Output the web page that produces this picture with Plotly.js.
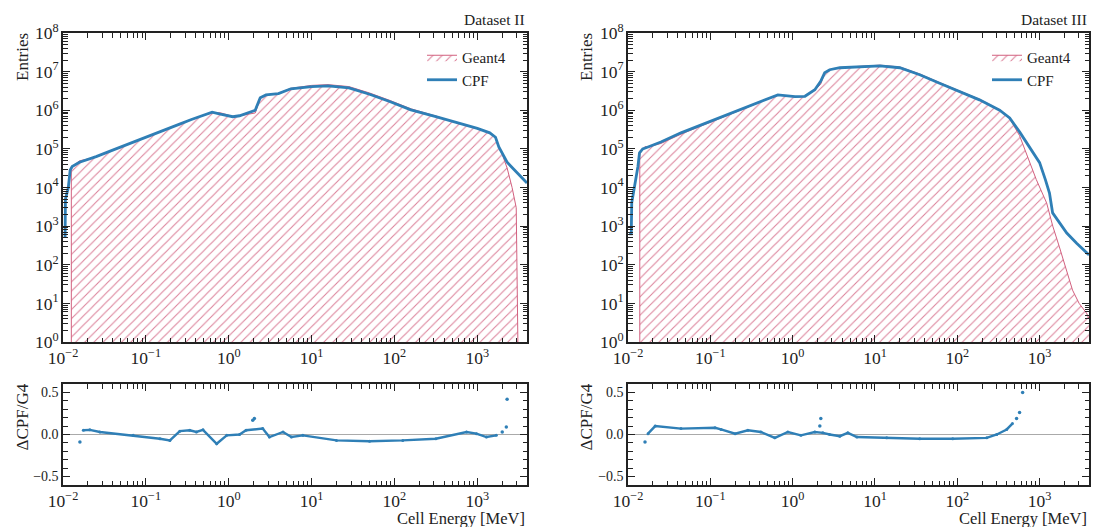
<!DOCTYPE html>
<html><head><meta charset="utf-8">
<script src="https://cdn.plot.ly/plotly-3.0.1.min.js"></script>
<style>html,body{margin:0;padding:0;background:#fff}#plot{width:1093px;height:527px}</style>
</head><body><div id="plot"></div>
<script>
// ---------------- Dataset II ----------------
const E_cpf2 = [0.0102,0.0106,0.0107,0.0112,0.0116,0.0122,0.0129,0.0158,0.0251,0.0398,0.0631,0.1,0.158,0.251,0.355,0.501,0.631,0.794,1.12,1.35,1.78,2.09,2.40,2.82,3.98,5.62,10,15.8,28.2,50.1,89.1,158,316,603,1000,1413,1660,1820,1995,2291,2630,3020,3548,3981];
const N_cpf2 = [5.6e2,5.6e2,5.0e3,7.1e3,1.0e4,2.8e4,3.5e4,4.5e4,6.3e4,9.3e4,1.35e5,2.0e5,2.95e5,4.3e5,5.75e5,7.6e5,8.9e5,7.9e5,6.8e5,7.2e5,8.7e5,1.0e6,2.1e6,2.5e6,2.7e6,3.6e6,4.1e6,4.3e6,3.8e6,2.6e6,1.66e6,1.02e6,6.8e5,4.6e5,3.4e5,2.6e5,2.0e5,1.12e5,7.9e4,4.5e4,3.3e4,2.4e4,1.6e4,1.3e4];
const E_g4_2 = [0.0126,0.0126,0.0158,0.0251,0.0398,0.0631,0.1,0.158,0.251,0.355,0.501,0.631,0.794,1.12,1.35,1.78,2.09,2.40,2.82,3.98,5.62,10,15.8,28.2,50.1,89.1,158,316,603,1000,1413,1660,1820,1995,2291,2630,2951,3090];
const N_g4_2 = [1,3.3e4,4.9e4,6.1e4,9.2e4,1.37e5,2.02e5,3.0e5,4.4e5,5.8e5,7.3e5,8.6e5,8.6e5,6.9e5,7.2e5,7.8e5,8.5e5,2.0e6,2.5e6,2.75e6,3.7e6,4.4e6,4.6e6,4.1e6,2.8e6,1.78e6,1.09e6,7.1e5,4.5e5,3.4e5,2.65e5,2.0e5,1.1e5,7.3e4,3.2e4,1.0e4,3.0e3,1];
const E_r2 = [0.0176,0.0211,0.0279,0.0703,0.148,0.195,0.257,0.339,0.407,0.489,0.716,0.946,1.35,1.62,2.57,3.10,4.52,5.71,7.85,20,50.1,126,316,741,977,1288,1698];
const R_r2 = [0.05,0.055,0.03,-0.01,-0.05,-0.07,0.04,0.05,0.03,0.055,-0.11,-0.01,0.0,0.05,0.07,-0.03,0.03,-0.03,-0.01,-0.07,-0.08,-0.07,-0.05,0.03,0.01,-0.03,-0.01];
const E_r2dots = [0.0160,1.95,2.04,2000,2240,2290];
const R_r2dots = [-0.09,0.17,0.19,0.03,0.09,0.42];

// ---------------- Dataset III ----------------
const E_cpf3 = [0.01035,0.01096,0.0111,0.01175,0.0126,0.0132,0.0138,0.0151,0.0175,0.0251,0.044,0.0794,0.158,0.286,0.447,0.661,1.07,1.41,1.86,2.19,2.45,2.82,3.74,6.55,11.5,20,35,61,107,186,327,433,571,757,1000,1175,1318,1439,1750,2138,2818,3715,3981];
const N_cpf3 = [6.3e2,6.3e2,4.0e3,7.9e3,2.0e4,3.5e4,7.9e4,1.0e5,1.12e5,1.5e5,2.6e5,4.3e5,7.6e5,1.26e6,1.86e6,2.5e6,2.24e6,2.3e6,3.4e6,5.6e6,9.3e6,1.12e7,1.26e7,1.35e7,1.41e7,1.26e7,8.3e6,5.0e6,3.0e6,1.86e6,1.0e6,6.3e5,2.75e5,1.12e5,4.4e4,1.6e4,7.2e3,2.2e3,1.2e3,6.6e2,3.6e2,2.0e2,1.8e2];
const E_g4_3 = [0.0139,0.0139,0.0161,0.0175,0.0251,0.044,0.0794,0.158,0.286,0.447,0.661,1.07,1.41,1.86,2.19,2.45,2.82,3.74,6.55,11.5,20,35,61,107,186,327,433,571,708,912,1216,1445,1738,2089,2512,3020,3715,3981];
const N_g4_3 = [1,7.5e4,1.15e5,1.11e5,1.38e5,2.4e5,4.0e5,7.1e5,1.2e6,1.8e6,2.55e6,2.2e6,2.3e6,3.3e6,4.7e6,9.3e6,1.12e7,1.28e7,1.4e7,1.47e7,1.32e7,8.7e6,5.2e6,3.1e6,1.93e6,1.04e6,6.0e5,2.2e5,6.3e4,1.6e4,4.0e3,1.0e3,2.9e2,80,22,10,5.6,4];
const E_r3 = [0.0175,0.0214,0.044,0.114,0.135,0.200,0.286,0.411,0.608,0.875,1.26,1.86,2.33,2.82,3.74,4.68,6.03,13.9,35,88,228,302,398,468];
const R_r3 = [0.01,0.1,0.07,0.08,0.06,0.01,0.05,0.03,-0.04,0.03,-0.01,0.03,0.02,0.0,-0.02,0.02,-0.03,-0.04,-0.05,-0.05,-0.04,0.0,0.06,0.13];
const E_r3dots = [0.0161,2.14,2.20,525,571,622];
const R_r3dots = [-0.09,0.1,0.19,0.19,0.26,0.5];

// tick labels: plotly's default log labels for 10^0 and 10^1 are "1" and "10";
// they are re-labelled in the same 10^n style as the other decades
const logDefaultLabels = ['1','10'];
const logTickText = ['10<sup>0</sup>','10<sup>1</sup>'];
const labelAlias = {};
logDefaultLabels.forEach((k,i)=>{labelAlias[k]=logTickText[i];});

// minor tick positions (axis decoration only)
function minorLog(lo,hi){ const v=[]; for(let e=lo;e<=hi;e++){ for(let m=2;m<=9;m++) v.push(m*Math.pow(10,e)); } return v; }
const xMinor = minorLog(-2,3);
const yMinor = minorLog(0,7);
const rMinor = []; for(let k=-6;k<=6;k++) rMinor.push(k/10);

const CPF = '#2f7fb6';
const G4 = '#d2607f';
const FONT = 'Liberation Serif, Times New Roman, serif';
const AX = '#222';

function g4trace(x,y,xa,ya,leg){
  return {x:x,y:y,xaxis:xa,yaxis:ya,type:'scatter',mode:'lines',name:'Geant4',legend:leg,
    line:{color:G4,width:1},fill:'tozeroy',
    fillpattern:{shape:'/',fgcolor:G4,bgcolor:'rgba(255,255,255,0)',size:6.5,solidity:0.16,fgopacity:0.8}};
}
function cpftrace(x,y,xa,ya,leg){
  return {x:x,y:y,xaxis:xa,yaxis:ya,type:'scatter',mode:'lines',name:'CPF',legend:leg,line:{color:CPF,width:2.8}};
}
function rline(x,y,xa,ya){
  return {x:x,y:y,xaxis:xa,yaxis:ya,type:'scatter',mode:'lines+markers',showlegend:false,
    line:{color:CPF,width:2.4},marker:{color:CPF,size:3}};
}
function rdots(x,y,xa,ya){
  return {x:x,y:y,xaxis:xa,yaxis:ya,type:'scatter',mode:'markers',showlegend:false,marker:{color:CPF,size:3.5}};
}
// empty holder so the minor-tick overlay subplots exist
function holder(xa,ya){ return {x:[],y:[],xaxis:xa,yaxis:ya,type:'scatter',mode:'markers',showlegend:false,hoverinfo:'skip'}; }

const data = [
  g4trace(E_g4_2,N_g4_2,'x','y','legend'),
  cpftrace(E_cpf2,N_cpf2,'x','y','legend'),
  rline(E_r2,R_r2,'x2','y2'),
  rdots(E_r2dots,R_r2dots,'x2','y2'),
  g4trace(E_g4_3,N_g4_3,'x3','y3','legend2'),
  cpftrace(E_cpf3,N_cpf3,'x3','y3','legend2'),
  rline(E_r3,R_r3,'x4','y4'),
  rdots(E_r3dots,R_r3dots,'x4','y4')
];
for(let k=5;k<=12;k++) data.push(holder('x'+k,'y'+k));

const W=1093,H=527;
const LX=[63/W,527/W], RX=[628/W,1089/W];
const TY=[(H-342)/H,(H-33)/H], BY=[(H-485)/H,(H-384)/H];
const TICKFONT = {family:FONT,size:14,color:AX};

function base(){
  return {ticks:'inside',ticklen:7,tickwidth:1,tickcolor:AX,showline:true,linecolor:AX,linewidth:1.6,
    mirror:'ticks',showgrid:false,zeroline:false,tickfont:TICKFONT};
}
function xax(dom,anchor){
  return Object.assign(base(),{domain:dom,anchor:anchor,type:'log',range:[-2,3.6],dtick:1,
    exponentformat:'power',labelalias:labelAlias});
}
function yaxLog(dom,anchor){
  return Object.assign(base(),{domain:dom,anchor:anchor,type:'log',range:[0,8],dtick:1,
    exponentformat:'power',labelalias:labelAlias});
}
function yaxR(dom,anchor){
  return Object.assign(base(),{domain:dom,anchor:anchor,range:[-0.6,0.6],dtick:0.5,tick0:0,tickformat:'.1f'});
}
// overlay axes carrying only the short minor ticks (one set per side, no mirroring)
function minorAx(over,anchor,side,type,range,vals){
  const a = {overlaying:over,anchor:anchor,side:side,range:range,tickmode:'array',tickvals:vals,ticks:'inside',ticklen:4.5,
    tickwidth:1,tickcolor:AX,showline:false,showgrid:false,zeroline:false,showticklabels:false};
  if(type) a.type=type;
  return a;
}

const ann = (x,y,text,opts)=>Object.assign({xref:'paper',yref:'paper',x:x,y:y,text:text,showarrow:false,
  font:{family:FONT,size:17,color:AX}},opts||{});
const LEGFONT = {family:FONT,size:15,color:AX};

const layout = {
  width:W,height:H,margin:{l:0,r:0,t:0,b:0},paper_bgcolor:'#fff',plot_bgcolor:'rgba(0,0,0,0)',
  font:{family:FONT,color:AX},
  xaxis:xax(LX,'y'), yaxis:yaxLog(TY,'x'),
  xaxis2:xax(LX,'y2'), yaxis2:yaxR(BY,'x2'),
  xaxis3:xax(RX,'y3'), yaxis3:yaxLog(TY,'x3'),
  xaxis4:xax(RX,'y4'), yaxis4:yaxR(BY,'x4'),
  // bottom / left minor ticks
  xaxis5:minorAx('x','y5','bottom','log',[-2,3.6],xMinor), yaxis5:minorAx('y','x5','left','log',[0,8],yMinor),
  xaxis6:minorAx('x2','y6','bottom','log',[-2,3.6],xMinor), yaxis6:minorAx('y2','x6','left',null,[-0.6,0.6],rMinor),
  xaxis7:minorAx('x3','y7','bottom','log',[-2,3.6],xMinor), yaxis7:minorAx('y3','x7','left','log',[0,8],yMinor),
  xaxis8:minorAx('x4','y8','bottom','log',[-2,3.6],xMinor), yaxis8:minorAx('y4','x8','left',null,[-0.6,0.6],rMinor),
  // top / right minor ticks
  xaxis9:minorAx('x','y9','top','log',[-2,3.6],xMinor), yaxis9:minorAx('y','x9','right','log',[0,8],yMinor),
  xaxis10:minorAx('x2','y10','top','log',[-2,3.6],xMinor), yaxis10:minorAx('y2','x10','right',null,[-0.6,0.6],rMinor),
  xaxis11:minorAx('x3','y11','top','log',[-2,3.6],xMinor), yaxis11:minorAx('y3','x11','right','log',[0,8],yMinor),
  xaxis12:minorAx('x4','y12','top','log',[-2,3.6],xMinor), yaxis12:minorAx('y4','x12','right',null,[-0.6,0.6],rMinor),
  legend:{x:422/W,y:1-41/H,xanchor:'left',yanchor:'top',bgcolor:'rgba(0,0,0,0)',font:LEGFONT,itemwidth:30,traceorder:'normal',tracegroupgap:0},
  legend2:{x:987/W,y:1-41/H,xanchor:'left',yanchor:'top',bgcolor:'rgba(0,0,0,0)',font:LEGFONT,itemwidth:30,traceorder:'normal',tracegroupgap:0},
  shapes:[
    {type:'line',xref:'x2 domain',yref:'y2',x0:0,x1:1,y0:0,y1:0,line:{color:'#aaaaaa',width:1},layer:'below'},
    {type:'line',xref:'x4 domain',yref:'y4',x0:0,x1:1,y0:0,y1:0,line:{color:'#aaaaaa',width:1},layer:'below'}
  ],
  annotations:[
    ann(527/W,1-30/H,'Dataset II',{xanchor:'right',yanchor:'bottom',font:{family:FONT,size:15.5,color:AX}}),
    ann(1089/W,1-30/H,'Dataset III',{xanchor:'right',yanchor:'bottom',font:{family:FONT,size:15.5,color:AX}}),
    ann(22/W,1-31/H,'Entries',{textangle:-90,xanchor:'center',yanchor:'top'}),
    ann(586/W,1-31/H,'Entries',{textangle:-90,xanchor:'center',yanchor:'top'}),
    ann(22/W,1-382/H,'ΔCPF/G4',{textangle:-90,xanchor:'center',yanchor:'top'}),
    ann(586/W,1-382/H,'ΔCPF/G4',{textangle:-90,xanchor:'center',yanchor:'top'}),
    ann(527/W,1-518/H,'Cell Energy [MeV]',{xanchor:'right',yanchor:'middle',font:{family:FONT,size:16.5,color:AX}}),
    ann(1089/W,1-518/H,'Cell Energy [MeV]',{xanchor:'right',yanchor:'middle',font:{family:FONT,size:16.5,color:AX}})
  ]
};
Plotly.newPlot('plot',data,layout,{staticPlot:true,displayModeBar:false});
</script></body></html>
